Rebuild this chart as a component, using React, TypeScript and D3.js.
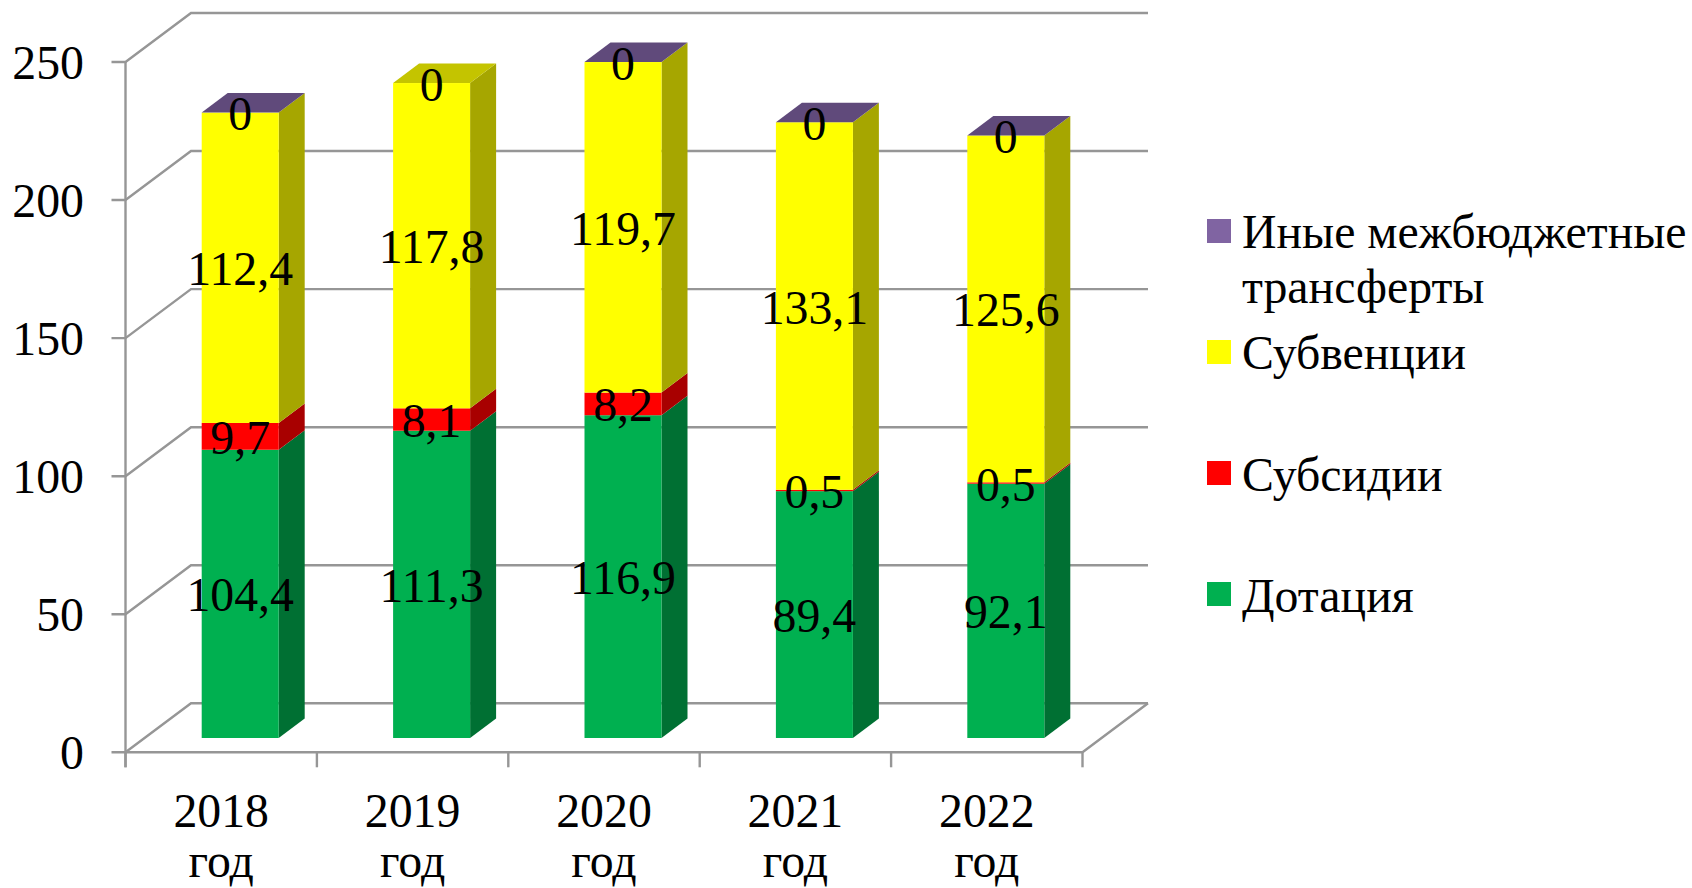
import React from "react";
import * as d3 from "d3";

const years = ["2018", "2019", "2020", "2021", "2022"];
const yearSuffix = "год";
const seriesNames = ["Дотация", "Субсидии", "Субвенции", "Иные"];
const dotation = [104.4, 111.3, 116.9, 89.4, 92.1];
const subsidies = [9.7, 8.1, 8.2, 0.5, 0.5];
const subventions = [112.4, 117.8, 119.7, 133.1, 125.6];
const other = [0, 0, 0, 0, 0];
const topSeriesIndex = [3, 2, 3, 3, 3];
const yTicks = [0, 50, 100, 150, 200, 250];
const frontColors = ["#00B050", "#FF0000", "#FFFF00", "#8064A2"];
const sideColors = ["#007033", "#A80000", "#A6A600", "#8064A2"];
const topColors = ["#009040", "#D00000", "#C4C400", "#604A7B"];
const legendRows = [
  { lines: ["Иные межбюджетные", "трансферты"], color: "#8064A2", box: 231, base: [248, 302.5] },
  { lines: ["Субвенции"], color: "#FFFF00", box: 352, base: [369] },
  { lines: ["Субсидии"], color: "#FF0000", box: 473, base: [491] },
  { lines: ["Дотация"], color: "#00B050", box: 594, base: [612] },
];

const W = 1692, H = 888;
const font = "'Liberation Serif', 'Times New Roman', serif";
const fs = 47.8;
const grid = "#969696";
const depthX = 65.5, depthY = -49;
const barDX = 26, barDY = -19.5;
const y = d3.scaleLinear().domain([0, 250]).range([752.3, 62]);
const x = d3.scaleBand<string>().domain(years).range([125.5, 1082.5]);
const barW = 77, barOffset = 19, barLift = 14.3;

const rows = years.map((yr, i) => ({ yr, a: dotation[i], b: subsidies[i], c: subventions[i], d: other[i] }));
const stacked = d3.stack<any>().keys(["a", "b", "c", "d"])(rows);

export default function App() {
  const bw = x.bandwidth();
  const bx = (yr: string) => (x(yr) as number) + bw / 2 - barW / 2 + barOffset;
  const by = (v: number) => y(v) - barLift;
  return (
    <svg width={W} height={H} style={{ position: "absolute", left: 0, top: 0, background: "#fff" }} fontFamily={font}>
      {yTicks.map((t) => (
        <g key={t} stroke={grid} strokeWidth={2.4} fill="none">
          <path d={`M${x.range()[0] - 14},${y(t)}H${x.range()[0]}L${x.range()[0] + depthX},${y(t) + depthY}H${x.range()[1] + depthX}`} />
        </g>
      ))}
      <path d={`M${x.range()[0]},${y(250)}V${y(0) + 15}`} stroke={grid} strokeWidth={2.4} fill="none" />
      <path d={`M${x.range()[0]},${y(0)}H${x.range()[1]}L${x.range()[1] + depthX},${y(0) + depthY}`} stroke={grid} strokeWidth={2.4} fill="none" />
      {[...years.map((yr) => x(yr) as number), x.range()[1]].map((px) => (
        <line key={px} x1={px} x2={px} y1={y(0)} y2={y(0) + 15} stroke={grid} strokeWidth={2.4} />
      ))}
      {yTicks.map((t) => (
        <text key={t} x={84} y={y(t) + 16.5} textAnchor="end" fontSize={fs} fill="#000">{t}</text>
      ))}
      {years.map((yr, i) => {
        const px = bx(yr);
        return (
          <g key={yr}>
            {stacked.map((s, k) => {
              const [v0, v1] = s[i];
              const y0 = by(v0), y1 = by(v1);
              if (v1 === v0) return null;
              return (
                <g key={k}>
                  <path d={`M${px + barW},${y0}L${px + barW + barDX},${y0 + barDY}V${y1 + barDY}L${px + barW},${y1}Z`} fill={sideColors[k]} />
                  <rect x={px} y={y1} width={barW} height={y0 - y1} fill={frontColors[k]} />
                </g>
              );
            })}
            {(() => {
              const top = by(stacked[3][i][1]);
              return <path d={`M${px},${top}L${px + barDX},${top + barDY}H${px + barW + barDX}L${px + barW},${top}Z`} fill={topColors[topSeriesIndex[i]]} />;
            })()}
          </g>
        );
      })}
      {years.map((yr, i) =>
        stacked.map((s, k) => {
          const [v0, v1] = s[i];
          const val = [dotation, subsidies, subventions, other][k][i];
          return (
            <text key={`${yr}-${seriesNames[k]}`} x={bx(yr) + barW / 2} y={(by(v0) + by(v1)) / 2 + 17.5} textAnchor="middle" fontSize={fs} fill="#000">
              {String(val).replace(".", ",")}
            </text>
          );
        })
      )}
      {years.map((yr) => {
        const cx = (x(yr) as number) + bw / 2;
        return (
          <g key={yr} textAnchor="middle" fontSize={fs} fill="#000">
            <text x={cx} y={827}>{yr}</text>
            <text x={cx} y={877}>{yearSuffix}</text>
          </g>
        );
      })}
      {legendRows.map((r) => (
        <g key={r.lines[0]}>
          <rect x={1207} y={r.box - 12} width={24} height={24} fill={r.color} />
          {r.lines.map((l, j) => (
            <text key={l} x={1242} y={r.base[j]} fontSize={fs} fill="#000">{l}</text>
          ))}
        </g>
      ))}
    </svg>
  );
}
